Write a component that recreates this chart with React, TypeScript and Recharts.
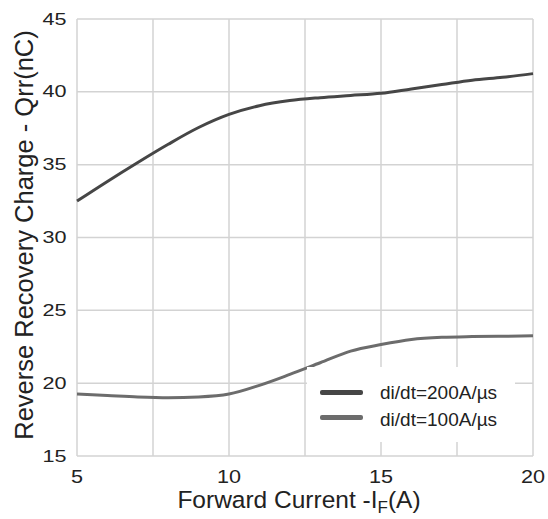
import { LineChart, Line, XAxis, YAxis, CartesianGrid, Label } from 'recharts';

const current = [5, 6, 7, 8, 9, 10, 11, 12, 13, 14, 15, 16, 17, 18, 19, 20];
const qrr200 = [32.5, 33.85, 35.15, 36.4, 37.55, 38.45, 39.05, 39.4, 39.6, 39.75, 39.9, 40.2, 40.5, 40.8, 41.0, 41.25];
const qrr100 = [19.25, 19.15, 19.05, 19.0, 19.05, 19.25, 19.85, 20.6, 21.4, 22.2, 22.65, 23.0, 23.15, 23.2, 23.22, 23.25];
const xTicks = [5, 7.5, 10, 12.5, 15, 17.5, 20];
const yTicks = [15, 20, 25, 30, 35, 40, 45];
const seriesNames = ['di/dt=200A/\u00b5s', 'di/dt=100A/\u00b5s'];
const seriesColors = ['#464646', '#6c6c6c'];

const data = current.map((c, i) => ({ current: c, s200: qrr200[i], s100: qrr100[i] }));

const FONT = '"Liberation Sans", Arial, sans-serif';
const TEXT = '#222';

const XTick = (props: any) => {
  const { x, y, payload } = props;
  if (payload.value % 5 !== 0) return null;
  return (
    <text transform={`translate(${x},${y + 12.5}) scale(1.2,1)`} textAnchor="middle" dominantBaseline="central"
      fontSize={18} fontFamily={FONT} fill={TEXT}>
      {payload.value}
    </text>
  );
};

const YTick = (props: any) => {
  const { x, y, payload } = props;
  return (
    <text transform={`translate(${x - 2.5},${y - 0.5}) scale(1.27,1)`} textAnchor="end" dominantBaseline="central"
      fontSize={17} fontFamily={FONT} fill={TEXT}>
      {payload.value}
    </text>
  );
};

// legend drawn as an overlay so it doesn't shrink the plot area
const LegendBox = () => (
  <div style={{ position: 'absolute', left: 307, top: 367, width: 208, height: 75, background: '#fff' }}>
    {seriesNames.map((name, i) => (
      <div key={name}>
        <div style={{ position: 'absolute', left: 13, top: 23 + i * 25, width: 43, height: 5, background: seriesColors[i], borderRadius: 2 }} />
        <div style={{ position: 'absolute', left: 73, top: 14 + i * 27, fontSize: 19, fontFamily: FONT, color: TEXT, lineHeight: '24px', whiteSpace: 'nowrap' }}>
          {name}
        </div>
      </div>
    ))}
  </div>
);

export default function App() {
  return (
    <div style={{ position: 'absolute', left: 0, top: 0, width: 548, height: 519, background: '#fff' }}>
      <LineChart width={548} height={519} data={data} margin={{ top: 19, right: 15, left: 0, bottom: 0 }}>
        <CartesianGrid stroke="#d3d3d3" strokeWidth={1.5} />
        <XAxis dataKey="current" type="number" domain={[5, 20]} ticks={xTicks} height={63}
          axisLine={false} tickLine={false} tick={<XTick />} interval={0}>
          <Label content={() => (
            <text x={299} y={508} textAnchor="middle" fontSize={24.5} fontFamily={FONT} fill={TEXT}>
              Forward Current -I<tspan fontSize={17} dy={5}>F</tspan><tspan dy={-5}>(A)</tspan>
            </text>
          )} />
        </XAxis>
        <YAxis type="number" domain={[15, 45]} ticks={yTicks} width={77}
          axisLine={false} tickLine={false} tick={<YTick />} interval={0}>
          <Label content={() => (
            <text x={33} y={235} transform="rotate(-90,33,235)" textAnchor="middle" fontSize={25.5} fontFamily={FONT} fill={TEXT}>
              Reverse Recovery Charge - Qrr(nC)
            </text>
          )} />
        </YAxis>
        <Line type="monotone" dataKey="s200" name={seriesNames[0]} stroke={seriesColors[0]} strokeWidth={3} dot={false} isAnimationActive={false} />
        <Line type="monotone" dataKey="s100" name={seriesNames[1]} stroke={seriesColors[1]} strokeWidth={3} dot={false} isAnimationActive={false} />
      </LineChart>
      <LegendBox />
    </div>
  );
}
